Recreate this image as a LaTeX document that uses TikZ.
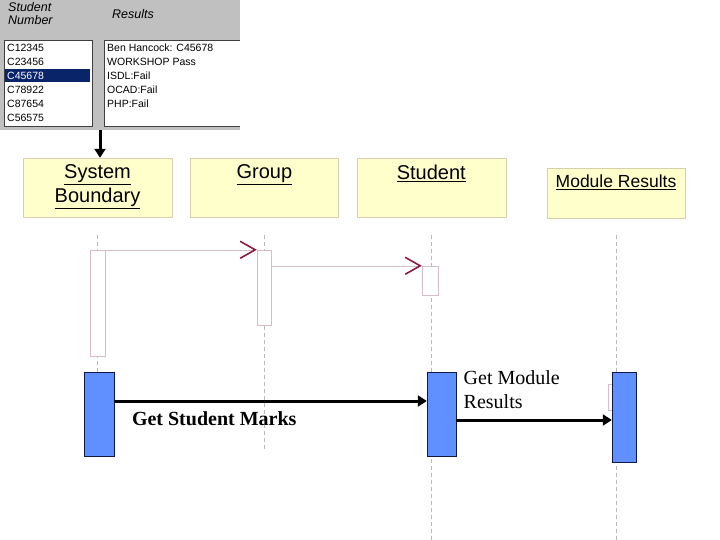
\documentclass[tikz,border=0pt]{standalone}
\usepackage{fontspec}
\setmainfont{Liberation Serif}
\setsansfont{Liberation Sans}
\usetikzlibrary{arrows.meta, positioning, calc, backgrounds}

\definecolor{panelgray}{HTML}{C0C0C0}
\definecolor{selnavy}{HTML}{0A246A}
\definecolor{headfill}{HTML}{FFFFCC}
\definecolor{headline}{HTML}{D8CFAE}
\definecolor{actline}{HTML}{D9BCC8}
\definecolor{arrred}{HTML}{8E1846}
\definecolor{barblue}{HTML}{6090FF}
\definecolor{barline}{HTML}{101848}

\begin{document}
\begin{tikzpicture}[
    x=1pt, y=-1pt,
    % Define box styles
    head/.style={
        rectangle,
        draw=headline,
        fill=headfill,
        inner sep=0pt,
        minimum height=59pt
    },
    headtxt/.style={
        font=\sffamily\fontsize{20}{24}\selectfont,
        align=center,
        inner sep=0pt
    },
    act/.style={
        rectangle,
        draw=actline,
        fill=white,
        inner sep=0pt
    },
    bar/.style={
        rectangle,
        draw=barline,
        fill=barblue,
        inner sep=0pt
    },
    life/.style={draw=gray!55, dash pattern=on 4pt off 3pt},
    msg/.style={draw=actline, -{Straight Barb[length=15pt,width=17pt,line width=1.6pt,color=arrred]}},
    call/.style={line width=3pt, -{Triangle[length=9pt,width=11pt]}},
    listtxt/.style={font=\sffamily\fontsize{10.5}{12}\selectfont, anchor=base west, inner sep=0pt}
]
    \useasboundingbox (0,0) rectangle (720,540);

    % =================================================================
    % --- Screen shot of the results form ---
    % =================================================================
    \node[fill=panelgray, minimum width=240pt, minimum height=130pt, anchor=north west, inner sep=0pt] (panel) at (0,0) {};
    \node[font=\sffamily\itshape\fontsize{12.5}{13}\selectfont, align=left, anchor=north west, inner sep=0pt] (numhdr) at (8,2) {Student\\Number};
    \node[font=\sffamily\itshape\fontsize{12.5}{13}\selectfont, anchor=west, inner sep=0pt] (reshdr) at (112,14) {Results};

    \draw[fill=white, draw=black!75] (4,40) rectangle (92,126);
    \fill[selnavy] (5,69) rectangle (90,82);
    \filldraw[fill=white, draw=black!75] (240,40) -- (104,40) -- (104,126) -- (240,126);

    \foreach \id/\c [count=\i] in {C12345/black, C23456/black, C45678/white, C78922/black, C87654/black, C56575/black} {
        \node[listtxt, text=\c] (sid\i) at (7, 38+14*\i) {\id};
    }
    \foreach \res [count=\i] in {Ben Hancock: C45678, WORKSHOP Pass, ISDL:Fail, OCAD:Fail, PHP:Fail} {
        \node[listtxt] (res\i) at (107, 38+14*\i) {\res};
    }

    % =================================================================
    % --- Object headers ---
    % =================================================================
    \node[head, minimum width=149pt] (sb) at (97.5,187.5) {};
    \node[head, minimum width=148pt, right=18pt of sb] (grp) {};
    \node[head, minimum width=149pt, right=18pt of grp] (stu) {};
    \node[head, minimum width=138pt, minimum height=50pt] (mod) at (616,193) {};

    \node[headtxt, below=7pt of sb.north] (sbtxt) {\underline{System}\\\underline{Boundary}};
    \node[headtxt, below=7pt of grp.north] (grptxt) {\underline{Group}};
    \node[headtxt, below=7pt of stu.north] (stutxt) {\underline{Student}};
    \node[headtxt, font=\sffamily\fontsize{17.5}{20}\selectfont, below=7pt of mod.north] (modtxt) {\underline{Module Results}};

    \draw[call] ([xshift=2.5pt]sb.north |- panel.south) -- ([xshift=2.5pt]sb.north);

    % =================================================================
    % --- Activations ---
    % =================================================================
    \node[act, minimum width=15pt, minimum height=106pt] (sbact) at (97.5,303) {};
    \node[act, minimum width=14pt, minimum height=75pt] (grpact) at (264,287.5) {};
    \node[act, minimum width=16pt, minimum height=29pt] (stuact) at (430,280.5) {};
    \node[act, minimum width=8pt, minimum height=26pt] (modact) at (612,397) {};

    \node[bar, minimum width=30pt, minimum height=84pt] (sbbar) at (99,414) {};
    \node[bar, minimum width=29pt, minimum height=84pt] (stubar) at (441.5,414) {};
    \node[bar, minimum width=24pt, minimum height=90pt] (modbar) at (624,417) {};

    % lifelines
    \begin{scope}[on background layer]
        \draw[life] ([yshift=-18pt]sb.south) -- (sb.south |- sbbar.north);
        \draw[life] ([yshift=-18pt]grp.south) -- ([yshift=-233pt]grp.south);
        \draw[life] ([yshift=-18pt]stu.south) -- (stu.south |- 0,540);
        \draw[life] ([yshift=-17pt]mod.south) -- (mod.south |- 0,540);
    \end{scope}

    % =================================================================
    % --- Messages ---
    % =================================================================
    \draw[msg] (sbact.north east) -- (grpact.north west);
    \draw[msg] (grpact.east |- stuact.north) -- (stuact.north west);

    \draw[call] ([yshift=13pt]sbbar.east) -- ([yshift=13pt]stubar.west)
        node[pos=0.32, below=6pt, font=\bfseries\fontsize{20}{22}\selectfont] (gsm) {Get Student Marks};
    \draw[call] ([yshift=-6pt]stubar.east) -- ([yshift=-6pt]stubar.east -| modbar.west)
        node[pos=0, anchor=south west, xshift=6pt, yshift=10pt, align=left, inner sep=0pt, font=\fontsize{20}{24}\selectfont] (gmr) {Get Module\\Results};
\end{tikzpicture}
\end{document}
